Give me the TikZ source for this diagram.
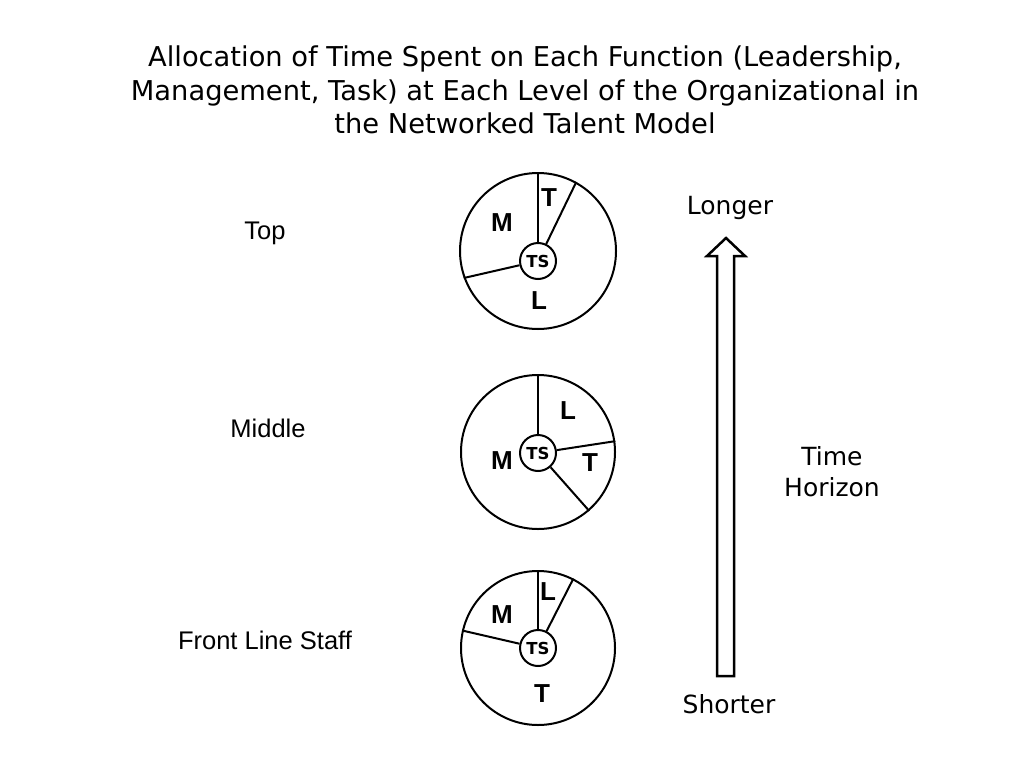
\documentclass[tikz,border=0pt]{standalone}
\usepackage{fontspec}
\setmainfont{DejaVu Sans}
\newfontfamily\arialfont{Liberation Sans}
\tikzset{>=latex}

\begin{document}
\begin{tikzpicture}[x=1pt,y=-1pt]
\useasboundingbox (0,0) rectangle (1024,768);

\node (title) at (525,90) [align=center,font=\fontsize{27.3}{33.5}\selectfont]
  {Allocation of Time Spent on Each Function (Leadership,\\
   Management, Task) at Each Level of the Organizational in\\
   the Networked Talent Model};

\begin{scope}[every node/.style={font=\arialfont\fontsize{25.5}{30}\selectfont}]
\node (top) at (265,233) {Top};
\node (middle) at (268,428) {Middle};
\node (front) at (265,640) {Front Line Staff};
\end{scope}

\begin{scope}[every node/.style={circle,draw,line width=2pt,inner sep=0pt,
    font=\bfseries\fontsize{16.5}{16.5}\selectfont}]
\node (P1) at (538,251) [minimum size=156pt] {};
\node (TS1) at (538,261) [minimum size=36pt] {TS};
\node (P2) at (538,452) [minimum size=154pt] {};
\node (TS2) at (538,453) [minimum size=36pt] {TS};
\node (P3) at (538,648) [minimum size=154pt] {};
\node (TS3) at (538,648) [minimum size=36pt] {TS};
\end{scope}

\begin{scope}[every path/.style={draw=black,line width=2pt}]
    \path (TS1) -- (P1.90);
    \path (TS1) -- (P1.61);
    \path (TS1) -- (P1.200);

    \path (TS2) -- (P2.90);
    \path (TS2) -- (P2.8);
    \path (TS2) -- (P2.311);

    \path (TS3) -- (P3.90);
    \path (TS3) -- (P3.63);
    \path (TS3) -- (P3.167);
\end{scope}

\begin{scope}[every node/.style={font=\arialfont\bfseries\fontsize{26}{26}\selectfont}]
\node (M1) at (502,223) {M};
\node (T1) at (549,198) {T};
\node (L1) at (539,301) {L};
\node (L2) at (568,411) {L};
\node (M2) at (502,461) {M};
\node (T2) at (590,463) {T};
\node (L3) at (548,592) {L};
\node (M3) at (502,615) {M};
\node (T3) at (542,694) {T};
\end{scope}

% time horizon arrow
\draw[line width=2.5pt,line join=miter]
  (717,676) -- (717,256) -- (707,256) -- (726,238) -- (745,256)
  -- (734,256) -- (734,676) -- cycle;

\begin{scope}[every node/.style={font=\fontsize{25}{31}\selectfont}]
\node (longer) at (730,208) {Longer};
\node (horizon) at (832,472) [align=center] {Time\\Horizon};
\node (shorter) at (729,704) {Shorter};
\end{scope}
\end{tikzpicture}
\end{document}
